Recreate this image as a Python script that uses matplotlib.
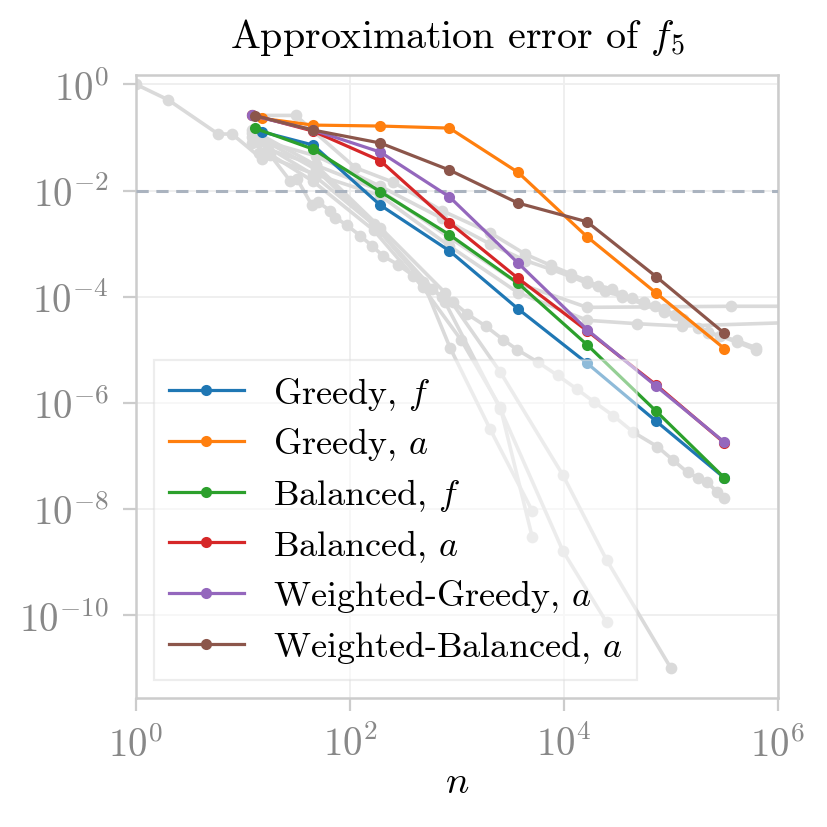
import matplotlib
matplotlib.use("Agg")
import matplotlib.pyplot as plt

plt.rcParams['font.family'] = 'serif'
plt.rcParams['font.serif'] = ['cmr10', 'DejaVu Serif']
plt.rcParams['mathtext.fontset'] = 'cm'
plt.rcParams['axes.formatter.use_mathtext'] = True
plt.rcParams['axes.unicode_minus'] = False

# colored methods (x = n, y = error)
x_greedy_f = [15, 45, 192, 850, 3720, 16400, 72800, 316000]
y_greedy_f = [0.128, 0.072, 5.3e-3, 7.3e-4, 5.9e-5, 5.6e-6, 4.5e-7, 3.85e-8]

x_greedy_a = [15, 45, 192, 850, 3720, 16400, 72800, 316000]
y_greedy_a = [0.229, 0.171, 0.164, 0.150, 0.022, 1.35e-3, 1.17e-4, 1.05e-5]

x_bal_f = [13, 45, 192, 850, 3720, 16400, 72800, 316000]
y_bal_f = [0.148, 0.0605, 9.5e-3, 1.47e-3, 1.79e-4, 1.25e-5, 6.95e-7, 3.85e-8]

x_bal_a = [12, 45, 192, 850, 3720, 16400, 72800, 316000]
y_bal_a = [0.268, 0.132, 0.0364, 2.48e-3, 2.22e-4, 2.29e-5, 2.17e-6, 1.76e-7]

x_wgreedy_a = [12, 45, 192, 850, 3720, 16400, 72800, 316000]
y_wgreedy_a = [0.26, 0.138, 0.053, 7.6e-3, 4.3e-4, 2.4e-5, 2.06e-6, 1.81e-7]

x_wbal_a = [13, 45, 192, 850, 3720, 16400, 72800, 316000]
y_wbal_a = [0.256, 0.138, 0.0785, 0.0243, 5.8e-3, 2.58e-3, 2.38e-4, 2.04e-5]

labels = ['Greedy, $f$', 'Greedy, $a$', 'Balanced, $f$', 'Balanced, $a$',
          'Weighted-Greedy, $a$', 'Weighted-Balanced, $a$']

# gray background methods
gx1 = [1, 2, 5.85, 7.9, 15.1, 17.9, 27.6, 32, 44, 50, 65, 73, 94, 125, 161, 205,
       282, 390, 585, 730, 925, 1250, 1850, 2700, 3670, 5660, 8700, 13300, 19000,
       29000, 44500, 74500, 105000, 143000, 178000, 218000, 270000, 310000]
gy1 = [1, 0.51, 0.116, 0.116, 0.039, 0.047, 0.0152, 0.0165, 5.3e-3, 6.1e-3, 4.2e-3,
       3.1e-3, 2.2e-3, 1.4e-3, 9.0e-4, 5.8e-4, 4.0e-4, 2.5e-4, 1.4e-4, 1.0e-4, 7.9e-5,
       4.7e-5, 2.8e-5, 1.55e-5, 1.0e-5, 5.9e-6, 3.3e-6, 1.8e-6, 1.05e-6, 5.7e-7,
       2.8e-7, 1.5e-7, 8.3e-8, 4.9e-8, 3.9e-8, 3.2e-8, 2.1e-8, 1.65e-8]

gx2 = [12, 31, 112, 254, 720, 2040, 4360, 7500, 11500, 16400, 21000, 28000, 35000,
       43000, 56000, 71000, 86000, 110000, 130000, 180000, 220000, 290000, 410000, 620000]
gy2 = [0.26, 0.26, 0.027, 0.0143, 4.2e-3, 1.6e-3, 6.3e-4, 3.9e-4, 2.7e-4, 2.0e-4,
       1.6e-4, 1.4e-4, 1.1e-4, 9.4e-5, 7.8e-5, 6.6e-5, 5.9e-5, 4.5e-5, 3.8e-5,
       2.6e-5, 2.1e-5, 1.8e-5, 1.5e-5, 1.1e-5]

gx3 = [15, 48, 192, 720, 2040, 4360, 7500, 11500, 16400, 24000, 35000, 56000,
       86000, 130000, 220000, 410000, 620000]
gy3 = [0.087, 0.045, 0.012, 3.0e-3, 9.8e-4, 4.8e-4, 3.3e-4, 2.4e-4, 1.8e-4, 1.3e-4,
       1.0e-4, 7.2e-5, 5.2e-5, 3.6e-5, 2.2e-5, 1.4e-5, 1.0e-5]

gx4 = [17, 48, 192, 850, 3700, 16400, 360000, 1600000]
gy4 = [0.06, 0.03, 0.01, 1.3e-3, 1.8e-4, 6.3e-5, 6.6e-5, 6.6e-5]

gx5 = [14, 48, 192, 850, 3700, 16400, 48000, 126000, 1600000]
gy5 = [0.05, 0.02, 8e-3, 9e-4, 1.2e-4, 3.6e-5, 3.1e-5, 2.8e-5, 3.3e-5]

gx6 = [12, 45, 166, 480, 860, 2040, 5040]
gy6 = [0.1, 0.02, 2.3e-3, 1.9e-4, 1.1e-5, 3.2e-7, 9.3e-9]

gx7 = [12, 45, 166, 480, 1100, 2540, 5040]
gy7 = [0.08, 0.015, 1.8e-3, 1.5e-4, 1.5e-5, 8.3e-7, 3e-9]

gx8 = [12, 48, 192, 770, 2540, 9800, 25000, 100000]
gy8 = [0.14, 0.03, 2e-3, 1.2e-4, 3.8e-6, 4.3e-8, 1.1e-9, 1e-11]

gx9 = [12, 48, 192, 770, 2540, 9800, 25000]
gy9 = [0.12, 0.025, 1.7e-3, 8e-5, 7.7e-7, 1.6e-9, 7.4e-11]

gray_x = [gx1, gx2, gx3, gx4, gx5, gx6, gx7, gx8, gx9]
gray_y = [gy1, gy2, gy3, gy4, gy5, gy6, gy7, gy8, gy9]

colored_x = [x_greedy_f, x_greedy_a, x_bal_f, x_bal_a, x_wgreedy_a, x_wbal_a]
colored_y = [y_greedy_f, y_greedy_a, y_bal_f, y_bal_a, y_wgreedy_a, y_wbal_a]
colors = ['tab:blue', 'tab:orange', 'tab:green', 'tab:red', 'tab:purple', 'tab:brown']

tol = 1e-2

fig = plt.figure(figsize=(4.14, 4.14), dpi=200)
ax = fig.add_axes([0.1643, 0.1562, 0.7753, 0.752])

for gx, gy in zip(gray_x, gray_y):
    ax.plot(gx, gy, color='#dadada', lw=1.3, marker='o', ms=3.2, zorder=2)

ax.axhline(tol, color='#aab3bf', lw=1.1, ls=(0, (4, 2.5)), zorder=3)

for xs, ys, c, lab in zip(colored_x, colored_y, colors, labels):
    ax.plot(xs, ys, color=c, lw=1.15, marker='o', ms=3, label=lab, zorder=4)

ax.set_xscale('log')
ax.set_yscale('log')
ax.set_xlim(1, 1e6)
ax.set_ylim(2.8e-12, 1.5)
ax.set_xticks([1e0, 1e2, 1e4, 1e6])
ax.set_yticks([1e0, 1e-2, 1e-4, 1e-6, 1e-8, 1e-10])
ax.minorticks_off()

ax.grid(True, color='#efefef', lw=0.7, zorder=0)
ax.set_axisbelow(True)
for s in ax.spines.values():
    s.set_color('#cccccc')
    s.set_linewidth(0.9)
ax.tick_params(axis='both', which='major', direction='out', length=4.8, width=0.8,
               color='#cccccc', labelcolor='#888888', labelsize=14, pad=5)

ax.set_title('Approximation error of $f_5$', fontsize=14.4, pad=10)
ax.set_xlabel('$n$', fontsize=14, labelpad=0)

leg = ax.legend(loc='lower left', fontsize=13, fancybox=False, framealpha=0.5,
                edgecolor='#dddddd', handlelength=2.1, handletextpad=0.8,
                borderpad=0.4, labelspacing=0.38, borderaxespad=0.5)
leg.get_frame().set_linewidth(0.8)

fig.savefig('out.png', dpi=200)
